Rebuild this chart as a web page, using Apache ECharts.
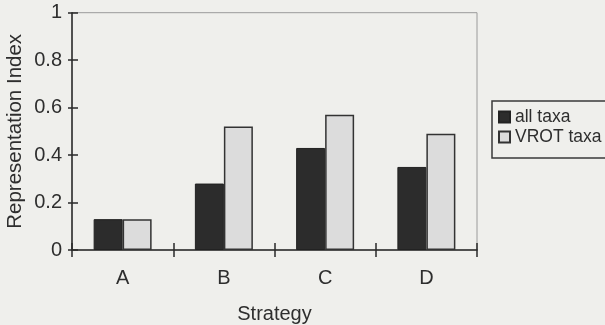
<!DOCTYPE html>
<html>
<head>
<meta charset="utf-8">
<script src="https://cdn.jsdelivr.net/npm/echarts@6/dist/echarts.min.js"></script>
<style>
html,body{margin:0;padding:0;background:#efefec;}
#c{width:605px;height:325px;}
</style>
</head>
<body>
<div id="c"></div>
<script>
const categories = ['A', 'B', 'C', 'D'];
const allTaxa = [0.13, 0.28, 0.43, 0.35];
const vrotTaxa = [0.13, 0.52, 0.57, 0.49];
const seriesNames = ['all taxa', 'VROT taxa'];
const yTicks = { min: 0, max: 1, interval: 0.2 };

const FONT = 'Liberation Sans, Arial, sans-serif';
const TXT = '#2e2e2e';
const gridBox = { left: 72, right: 128, top: 12.7, bottom: 75, containLabel: false, outerBoundsMode: 'none' };

const chart = echarts.init(document.getElementById('c'), null, { renderer: 'canvas' });
chart.setOption({
  backgroundColor: '#efefec',
  animation: false,
  textStyle: { fontFamily: FONT },
  grid: [
    Object.assign({ show: true, borderColor: '#9a9a9a', borderWidth: 1, backgroundColor: 'transparent' }, gridBox),
    Object.assign({ show: false }, gridBox)
  ],
  legend: {
    left: 492, top: 101,
    orient: 'vertical',
    itemWidth: 11, itemHeight: 11, itemGap: 2,
    padding: [7, 20, 12, 6],
    borderColor: '#3a3a3a', borderWidth: 1.5,
    icon: 'rect',
    textStyle: { fontFamily: FONT, fontSize: 17.5, color: TXT },
    data: seriesNames
  },
  xAxis: [
    {
      type: 'category', gridIndex: 0, data: categories,
      name: 'Strategy', nameLocation: 'middle', nameGap: 54,
      nameTextStyle: { fontFamily: FONT, fontSize: 20, color: TXT },
      axisLine: { lineStyle: { color: '#2a2a2a', width: 1.5 } },
      axisTick: { show: true, inside: false, length: 7, lineStyle: { color: '#2a2a2a', width: 1.5 } },
      axisLabel: { margin: 18, fontFamily: FONT, fontSize: 20, color: TXT }
    },
    {
      type: 'category', gridIndex: 1, data: categories,
      axisLine: { show: false },
      axisTick: { show: true, inside: true, length: 7, lineStyle: { color: '#2a2a2a', width: 1.5 } },
      axisLabel: { show: false }
    }
  ],
  yAxis: [
    {
      type: 'value', gridIndex: 0, min: yTicks.min, max: yTicks.max, interval: yTicks.interval,
      name: 'Representation Index', nameLocation: 'middle', nameGap: 46, nameMoveOverlap: false,
      nameTextStyle: { fontFamily: FONT, fontSize: 20.5, color: TXT },
      splitLine: { show: false },
      axisLine: { show: true, lineStyle: { color: '#2a2a2a', width: 1.5 } },
      axisTick: { show: true, inside: false, length: 4, lineStyle: { color: '#2a2a2a', width: 1.5 } },
      axisLabel: { margin: 10, fontFamily: FONT, fontSize: 20, color: TXT }
    },
    {
      type: 'value', gridIndex: 1, min: yTicks.min, max: yTicks.max, interval: yTicks.interval,
      splitLine: { show: false },
      axisLine: { show: false },
      axisTick: { show: true, inside: true, length: 6, lineStyle: { color: '#2a2a2a', width: 1.5 } },
      axisLabel: { show: false }
    }
  ],
  series: [
    {
      name: seriesNames[0], type: 'bar', xAxisIndex: 0, yAxisIndex: 0,
      data: allTaxa, barWidth: 29, barGap: '0%',
      itemStyle: { color: '#2c2c2c', borderColor: '#222', borderWidth: 1 }
    },
    {
      name: seriesNames[1], type: 'bar', xAxisIndex: 0, yAxisIndex: 0,
      data: vrotTaxa, barWidth: 29, barGap: '0%',
      itemStyle: { color: '#dcdcdc', borderColor: '#333', borderWidth: 1.5 }
    }
  ]
});
</script>
</body>
</html>
